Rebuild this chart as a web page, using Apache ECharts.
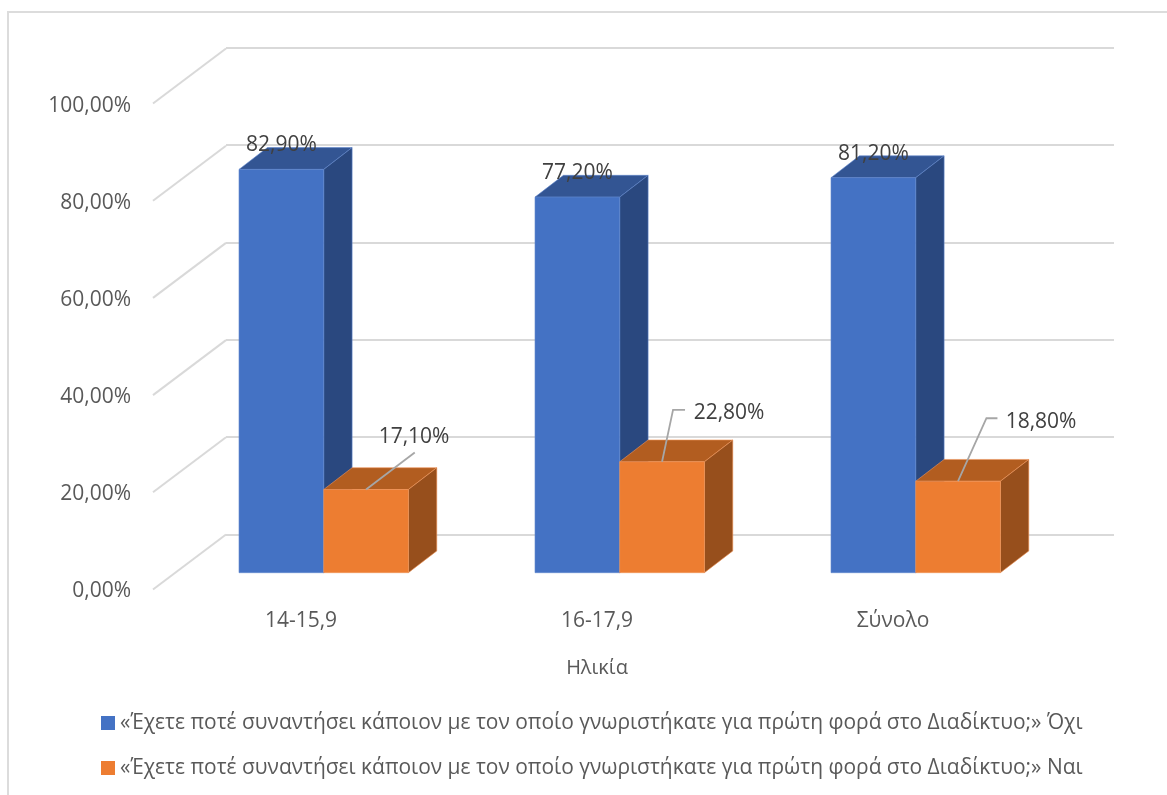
<!DOCTYPE html>
<html>
<head>
<meta charset="utf-8">
<style>html,body{margin:0;padding:0;background:#fff}#c{width:1167px;height:795px}</style>
<script src="https://cdn.jsdelivr.net/npm/echarts@6/dist/echarts.min.js"></script>
</head>
<body>
<div id="c"></div>
<script>
const categories = ['14-15,9', '16-17,9', 'Σύνολο'];
const seriesNames = [
  '«Έχετε ποτέ συναντήσει κάποιον με τον οποίο γνωριστήκατε για πρώτη φορά στο Διαδίκτυο;» Όχι',
  '«Έχετε ποτέ συναντήσει κάποιον με τον οποίο γνωριστήκατε για πρώτη φορά στο Διαδίκτυο;» Ναι'
];
const noValues = [82.9, 77.2, 81.2];
const yesValues = [17.1, 22.8, 18.8];
const wallTicks = [0, 20, 40, 60, 80, 100];
const axisTitle = 'Ηλικία';

const FONT = '"Open Sans"';
const DEPTH = [28.4, -21.8];
const WALL_DEPTH = [73, -55];
const pct = v => v.toFixed(2).replace('.', ',') + '%';

const noLabelLayout = [[0, -24.5], [0, -24.5], [0, -24]];
const yesLabelLayout = [
  {text: [48, -52.5], line: [[0, 0], [48.7, -37]]},
  {text: [67, -48.5], line: [[0, 0], [11, -52], [23, -52]]},
  {text: [83, -59.5], line: [[0, 0], [28.4, -63], [39.4, -63]]}
];

const barSeries = (idx, name, values, colors) => ({
  type: 'custom', name, xAxisIndex: 2, yAxisIndex: 2, z: 5 + idx,
  data: values.map((v, i) => [i, v]),
  itemStyle: {color: colors.front},
  clip: false,
  renderItem(params, api) {
    const i = api.value(0), v = api.value(1);
    const top = api.coord([i, v]), base = api.coord([i, 0]);
    const bw = api.size([1, 0])[0] * 0.2861;
    const x0 = idx === 0 ? top[0] - bw : top[0], x1 = x0 + bw;
    const [dx, dy] = DEPTH;
    const cx = (x0 + x1) / 2;
    const children = [
      {type: 'polygon', shape: {points: [[x0, top[1]], [x1, top[1]], [x1 + dx, top[1] + dy], [x0 + dx, top[1] + dy]]},
        style: {fill: colors.top, stroke: colors.edge, lineWidth: 0.6}},
      {type: 'polygon', shape: {points: [[x1, top[1]], [x1 + dx, top[1] + dy], [x1 + dx, base[1] + dy], [x1, base[1]]]},
        style: {fill: colors.side, stroke: colors.edge, lineWidth: 0.6}},
      {type: 'rect', shape: {x: x0, y: top[1], width: bw, height: base[1] - top[1]},
        style: {fill: colors.front, stroke: colors.edge, lineWidth: 0.6}}
    ];
    if (idx === 0) {
      const o = noLabelLayout[i];
      children.push({type: 'text', z2: 20, style: {text: pct(v), x: cx + o[0], y: top[1] + o[1], align: 'center', verticalAlign: 'middle',
        fill: '#404040', font: '21px ' + FONT}});
    } else {
      const o = yesLabelLayout[i];
      children.push({type: 'polyline', z2: 18, shape: {points: o.line.map(p => [cx + p[0], top[1] + p[1]])},
        style: {fill: 'none', stroke: '#a6a6a6', lineWidth: 1.8}});
      children.push({type: 'text', z2: 20, style: {text: pct(v), x: cx + o.text[0], y: top[1] + o.text[1], align: 'center', verticalAlign: 'middle',
        fill: '#404040', font: '21px ' + FONT}});
    }
    return {type: 'group', children};
  }
});

const wallSeries = {
  type: 'custom', xAxisIndex: 0, yAxisIndex: 0, z: 1, silent: true, clip: false,
  data: wallTicks.map(v => [0, v]),
  renderItem(params, api) {
    const p = api.coord([0, api.value(1)]);
    const band = api.size([1, 0])[0];
    const x = p[0] - band / 2;
    return {type: 'line', shape: {x1: x, y1: p[1], x2: x + WALL_DEPTH[0], y2: p[1] + WALL_DEPTH[1]},
      style: {stroke: '#d9d9d9', lineWidth: 2}};
  }
};

const option = {
  animation: false,
  backgroundColor: '#ffffff',
  graphic: [{type: 'rect', z: -1, shape: {x: 8, y: 12, width: 1200, height: 900},
    style: {fill: 'none', stroke: '#dcdcdc', lineWidth: 2}}],
  legend: [0, 1].map(i => ({
    data: [{name: seriesNames[i]}],
    left: 101, top: 712.5 + i * 45, padding: 0,
    itemWidth: 14, itemHeight: 14, itemGap: 6,
    icon: 'rect',
    textStyle: {fontFamily: FONT, fontSize: 20.95, color: '#595959', padding: [4, 0, 0, 0]}
  })),
  grid: [
    {left: 153, top: 103.5, width: 888, height: 486},
    {left: 226, top: 47.5, width: 888, height: 487},
    {left: 175.7, top: 86.2, width: 888, height: 486.5},
    {left: 153, top: 106, width: 888, height: 485}
  ],
  xAxis: [
    {gridIndex: 0, type: 'category', data: categories,
      axisLine: {show: false}, axisTick: {show: false},
      axisLabel: {fontFamily: FONT, fontSize: 21, color: '#595959', margin: 21},
      name: axisTitle, nameLocation: 'middle', nameGap: 69,
      nameTextStyle: {fontFamily: FONT, fontSize: 20, color: '#595959'}},
    {gridIndex: 1, type: 'category', data: categories, show: false},
    {gridIndex: 2, type: 'category', data: categories, show: false},
    {gridIndex: 3, type: 'category', data: categories, show: false}
  ],
  yAxis: [
    {gridIndex: 0, type: 'value', min: 0, max: 100, interval: 20, show: false},
    {gridIndex: 1, type: 'value', min: 0, max: 100, interval: 20,
      axisLine: {show: false}, axisTick: {show: false}, axisLabel: {show: false},
      splitLine: {show: true, lineStyle: {color: '#d9d9d9', width: 2}}},
    {gridIndex: 2, type: 'value', min: 0, max: 100, interval: 20, show: false},
    {gridIndex: 3, type: 'value', min: 0, max: 100, interval: 20,
      axisLine: {show: false}, axisTick: {show: false}, splitLine: {show: false},
      axisLabel: {fontFamily: FONT, fontSize: 21, color: '#595959', margin: 22, formatter: v => pct(v)}}
  ],
  series: [
    wallSeries,
    barSeries(0, seriesNames[0], noValues, {front: '#4472C4', top: '#335593', side: '#2A487F', edge: '#5f86cd'}),
    barSeries(1, seriesNames[1], yesValues, {front: '#ED7D31', top: '#B25D20', side: '#974F1C', edge: '#f0965a'})
  ]
};
const chart = echarts.init(document.getElementById('c'), null, {renderer: 'canvas'});
chart.setOption(option);
</script>
</body>
</html>
